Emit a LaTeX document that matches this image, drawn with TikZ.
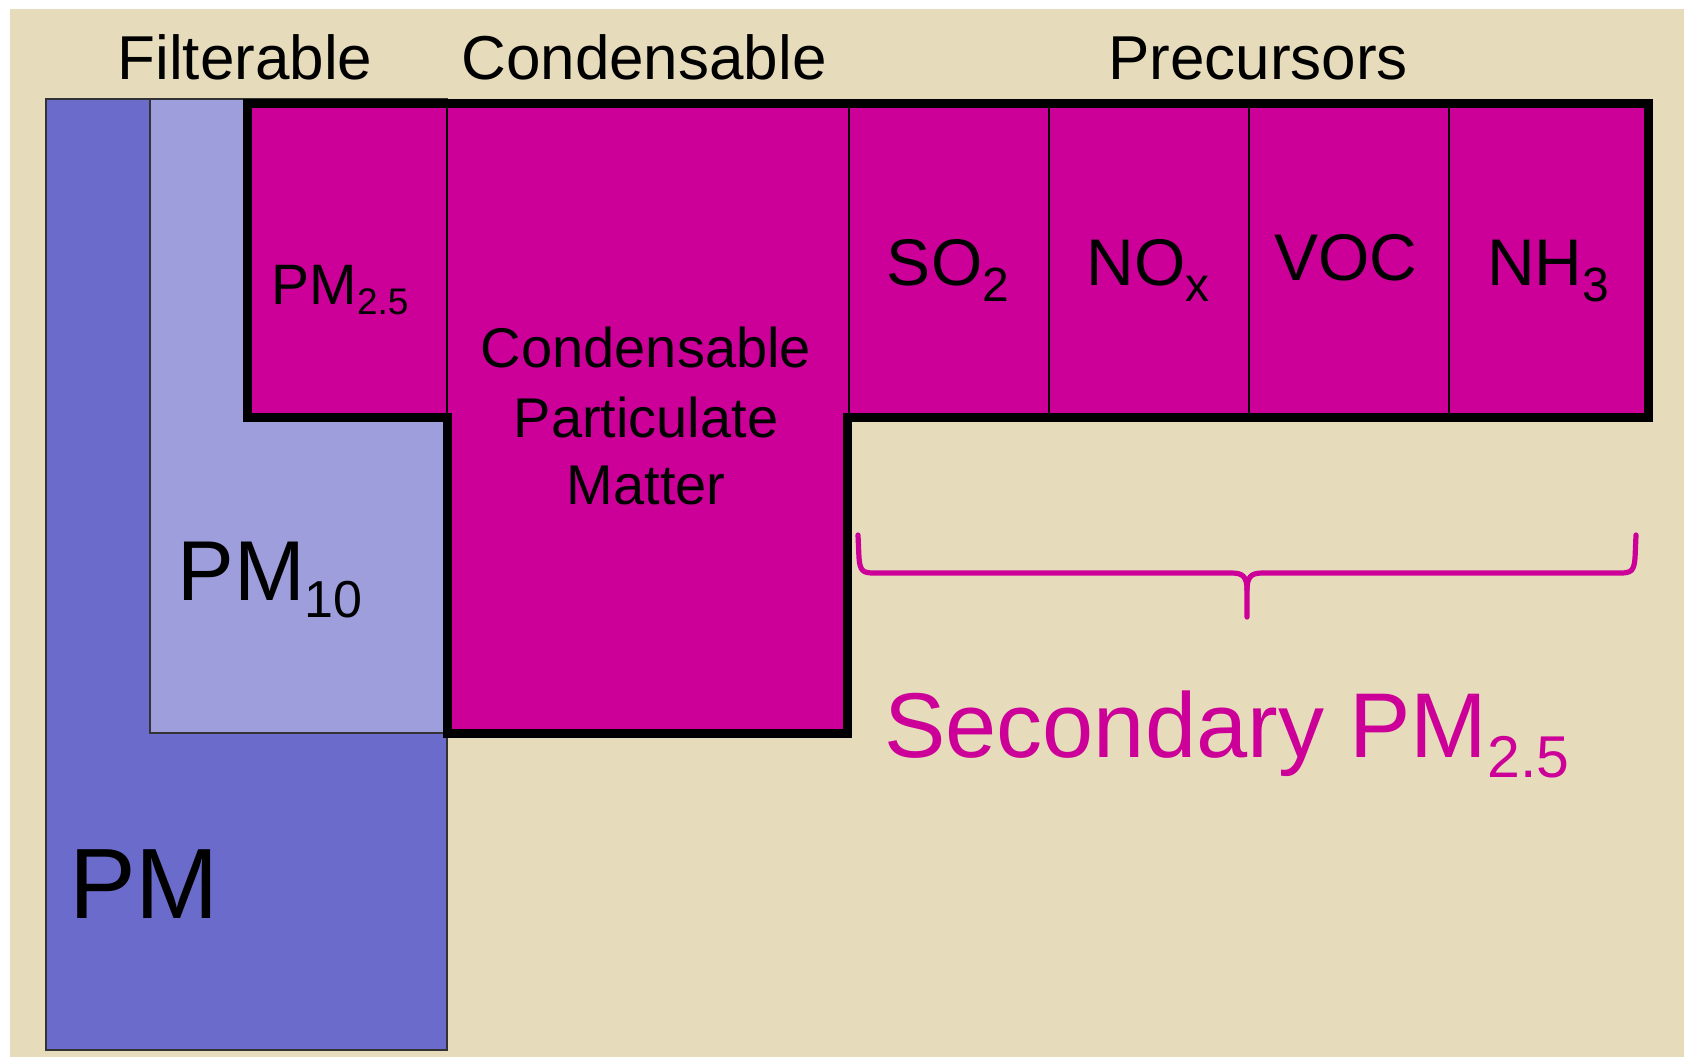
\documentclass[tikz,border=0pt]{standalone}
\usepackage{fontspec}
\setmainfont{Liberation Sans}
\definecolor{paper}{HTML}{E6DCBC}
\definecolor{pmblue}{HTML}{6B6BCC}
\definecolor{pmlight}{HTML}{9E9EDD}
\definecolor{pmmag}{HTML}{CC0099}
% lowered subscript: size, drop, text
\newcommand\lowered[3]{\raisebox{-#2}{\fontsize{#1}{#1}\selectfont #3}}
\tikzset{
  lbl/.style={anchor=base, inner sep=0pt, outer sep=0pt, text=black},
  hdr/.style={lbl, font=\fontsize{31pt}{37pt}\selectfont},
  gas/.style={lbl, font=\fontsize{33pt}{39pt}\selectfont},
  cpmtext/.style={lbl, font=\fontsize{28pt}{34pt}\selectfont},
  thinrule/.style={draw=black, line width=1pt},
  heavyrule/.style={draw=black, line width=4.5pt, line join=miter},
  bluebox/.style={draw=black!80, line width=0.8pt}
}
\begin{document}
\begin{tikzpicture}[x=0.5pt, y=-0.5pt]
\useasboundingbox (0,0) rectangle (1684,1057);
\fill[white] (0,0) rectangle (1684,1057);
\fill[paper] (10,9) rectangle (1684,1057);

% total PM and PM10 blocks
\filldraw[fill=pmblue, bluebox] (46,99) rectangle (447,1050);
\filldraw[fill=pmlight, bluebox] (150,99) rectangle (447,733);

% PM2.5 region: filterable cell, condensable column, precursor cells
\fill[pmmag] (247,103) -- (1648,103) -- (1648,417) -- (847,417) -- (847,733)
  -- (447,733) -- (447,417) -- (247,417) -- cycle;
\draw[thinrule] (447,103) -- (447,417);
\foreach \cx in {849,1049,1249,1449}
  \draw[thinrule] (\cx,103) -- (\cx,417);
\draw[heavyrule] (247,417) -- (247,103) -- (1648,103) -- (1648,417) -- (847,417)
  -- (847,733) -- (447,733) -- (447,417) -- cycle;

% column headings
\node[hdr] (hfilt) at (245,79) {Filterable};
\node[hdr] (hcond) at (644,79) {Condensable};
\node[hdr] (hprec) at (1258,79) {Precursors};

% cell labels
\node[lbl, font=\fontsize{28.5pt}{34pt}\selectfont] (pmfine) at (340,304)
  {PM\lowered{18.5pt}{5pt}{2.5}};
\node[cpmtext] (cpm1) at (646,367) {Condensable};
\node[cpmtext] (cpm2) at (646,437) {Particulate};
\node[cpmtext] (cpm3) at (646,504) {Matter};

\node[gas] (so2) at (948,285) {SO\lowered{24pt}{8pt}{2}};
\node[gas] (nox) at (1148,285) {NO\lowered{24pt}{8pt}{x}};
\node[gas] (voc) at (1346,280) {VOC};
\node[gas] (nh3) at (1548,285) {NH\lowered{24pt}{8pt}{3}};

\node[lbl, font=\fontsize{42.5pt}{50pt}\selectfont] (pmten) at (270,600)
  {PM\lowered{26pt}{8.5pt}{10}};
\node[lbl, font=\fontsize{50pt}{60pt}\selectfont] (pmall) at (144,918) {PM};

% brace under the precursor cells
\draw[pmmag, line width=2.6pt, line cap=round, line join=round]
  (858,535) -- (859,558) .. controls (860,571) and (863,573) .. (874,573)
  -- (1232,573) .. controls (1243,573) and (1247,577) .. (1247,590) -- (1247,617);
\draw[pmmag, line width=2.6pt, line cap=round, line join=round]
  (1247,590) .. controls (1247,577) and (1251,573) .. (1262,573)
  -- (1620,573) .. controls (1631,573) and (1634,571) .. (1635,558) -- (1636,535);

\node[lbl, text=pmmag, font=\fontsize{46pt}{55pt}\selectfont] (secpm) at (1227,757)
  {Secondary PM\lowered{29.5pt}{10pt}{2.5}};
\end{tikzpicture}
\end{document}
